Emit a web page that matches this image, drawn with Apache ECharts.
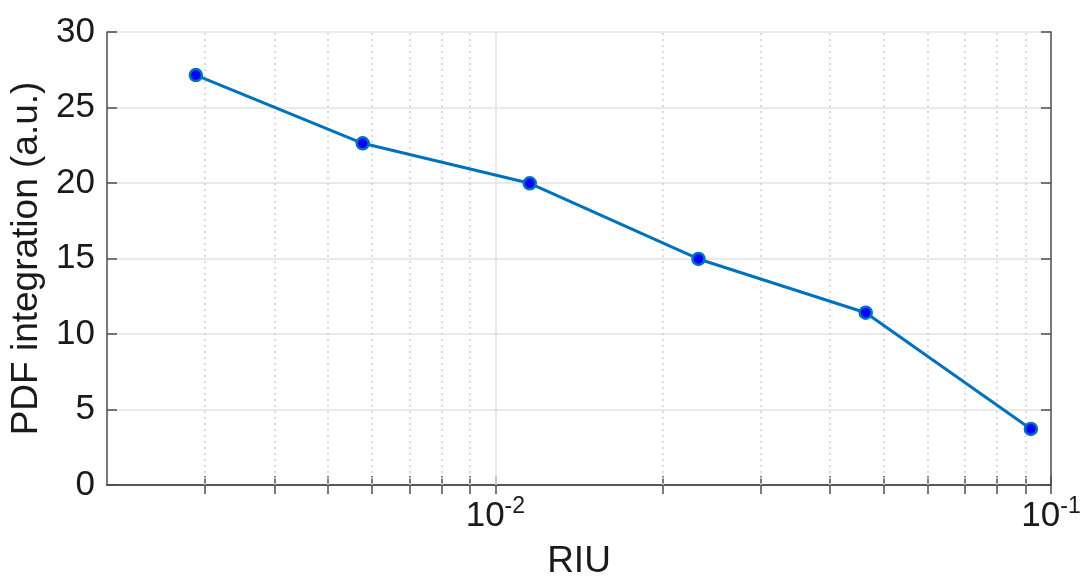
<!DOCTYPE html>
<html>
<head>
<meta charset="utf-8">
<script src="https://cdn.jsdelivr.net/npm/echarts@6/dist/echarts.min.js"></script>
<style>
  html, body { margin: 0; padding: 0; background: #fff; }
  #main { width: 1084px; height: 577px; }
</style>
</head>
<body>
<div id="main"></div>
<script>
// RIU values (log x axis) and PDF integration values
const riu = [0.00289, 0.00577, 0.01153, 0.0232, 0.0464, 0.092];
const pdf = [27.15, 22.63, 19.98, 14.97, 11.41, 3.71];

const xMin = 0.002;
const xMax = 0.1;
const xMajor = [0.01, 0.1];
const xMinor = [0.003, 0.004, 0.005, 0.006, 0.007, 0.008, 0.009,
                0.02, 0.03, 0.04, 0.05, 0.06, 0.07, 0.08, 0.09];
const yTicks = [0, 5, 10, 15, 20, 25, 30];

const font = 'Liberation Sans, Arial, sans-serif';
const axisColor = '#4d4d4d';
const textColor = '#1a1a1a';

const chart = echarts.init(document.getElementById('main'));

function xAxisBase(pos) {
  return {
    type: 'log',
    logBase: 10,
    min: xMin,
    max: xMax,
    position: pos,
    axisLine: { show: true, lineStyle: { color: axisColor, width: 1.5 } },
    axisTick: {
      show: true,
      inside: true,
      length: 9,
      customValues: xMinor.concat(xMajor),
      lineStyle: { color: axisColor, width: 1.5 }
    },
    splitLine: { show: false },
    minorTick: { show: false },
    axisLabel: { show: false }
  };
}

function yAxisBase(pos) {
  return {
    type: 'value',
    min: yTicks[0],
    max: yTicks[yTicks.length - 1],
    interval: 5,
    position: pos,
    axisLine: { show: true, lineStyle: { color: axisColor, width: 1.5 } },
    axisTick: { show: true, inside: true, length: 10, lineStyle: { color: axisColor, width: 1.5 } },
    splitLine: { show: false },
    axisLabel: { show: false }
  };
}

const xBottom = xAxisBase('bottom');
xBottom.name = 'RIU';
xBottom.nameLocation = 'middle';
xBottom.nameGap = 58;
xBottom.nameTextStyle = { fontFamily: font, fontSize: 37, color: textColor };
xBottom.axisLabel = {
  show: true,
  customValues: xMajor,
  margin: 10,
  fontFamily: font,
  color: textColor,
  formatter: function (v) {
    const p = Math.round(Math.log10(v));
    return '{b|10}{s|' + p + '}';
  },
  rich: {
    b: { fontFamily: font, fontSize: 35, color: textColor, verticalAlign: 'bottom' },
    s: { fontFamily: font, fontSize: 23, color: textColor, verticalAlign: 'bottom', padding: [0, 0, 16, 0] }
  }
};

const yLeft = yAxisBase('left');
yLeft.name = 'PDF integration (a.u.)';
yLeft.nameLocation = 'middle';
yLeft.nameGap = 58;
yLeft.nameTextStyle = { fontFamily: font, fontSize: 37, color: textColor };
yLeft.axisLabel = { show: true, margin: 12, fontFamily: font, fontSize: 35, color: textColor };
yLeft.splitLine = { show: true, lineStyle: { color: '#e3e3e3', width: 1.5 } };

let option = {
  backgroundColor: '#fff',
  animation: false,
  grid: { left: 107, right: 33, top: 32, bottom: 92, containLabel: false, outerBoundsMode: 'none' },
  xAxis: [xBottom, xAxisBase('top')],
  yAxis: [yLeft, yAxisBase('right')],
  series: [
    {
      type: 'line',
      data: riu.map((x, i) => [x, pdf[i]]),
      symbol: 'circle',
      symbolSize: 12,
      lineStyle: { color: '#0072BD', width: 3 },
      itemStyle: { color: '#0000ff', borderColor: '#0072BD', borderWidth: 2.5 },
      z: 3,
      markLine: {
        silent: true,
        symbol: 'none',
        precision: 6,
        z: 1,
        label: { show: false },
        data: xMinor.map(v => ({ xAxis: v, lineStyle: { color: '#cfcfcf', type: [2, 4], width: 1.5 } }))
          .concat([{ xAxis: 0.01, lineStyle: { color: '#e3e3e3', type: 'solid', width: 1.5 } }])
      }
    }
  ]
};

chart.setOption(option);
</script>
</body>
</html>
